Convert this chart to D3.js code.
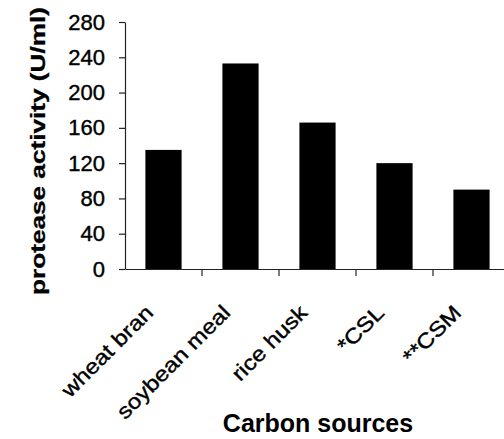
<!DOCTYPE html>
<html>
<head>
<meta charset="utf-8">
<script src="https://cdn.jsdelivr.net/npm/d3@7"></script>
<style>
	body { margin: 0; background: #fff; }
	svg { display: block; font-family: "Liberation Sans", Arial, sans-serif; }
	.axis path, .axis line { stroke: #222; stroke-width: 1.2; }
</style>
</head>
<body>
<div id="vis"></div>
<script>
var categories = ["wheat bran", "soybean meal", "rice husk", "*CSL", "**CSM"];
var activity   = [135, 233, 166, 120, 90];
var yTicks     = [0, 40, 80, 120, 160, 200, 240, 280];

var yTitle = "protease activity (U/ml)";
var xTitle = "Carbon sources";

// size of the picture and of the plot area
var width = 504;
var height = 439;
var margin = { top: 22, left: 125, bottom: 170, right: -6 };
var plotW = width - margin.left - margin.right;
var plotH = height - margin.top - margin.bottom;

var myData = categories.map(function (c, i) {
	return { name: c, value: activity[i] };
});

var x = d3.scaleBand()
	.range([0, plotW])
	.paddingInner(0.53)
	.paddingOuter(0.265)
	.domain(categories);

var y = d3.scaleLinear()
	.range([plotH, 0])
	.domain([0, 280]);

var svg = d3.select('#vis').append('svg')
	.attr('width', width)
	.attr('height', height);

var g = svg.append("g").attr("transform", "translate(" + margin.left + "," + margin.top + ")");

// bars
g.selectAll(".bar")
	.data(myData)
	.enter().append("rect")
	.attr("class", "bar")
	.attr("x", function (d) { return x(d.name); })
	.attr("y", function (d) { return y(d.value); })
	.attr("width", x.bandwidth())
	.attr("height", function (d) { return plotH - y(d.value); })
	.attr("fill", "#000");

// y axis
var yAxis = g.append("g")
	.attr('class', 'y axis')
	.call(d3.axisLeft(y).tickValues(yTicks).tickSize(6).tickPadding(14).tickSizeOuter(0));
yAxis.selectAll("text")
	.attr("fill", "#000")
	.attr("stroke", "#000")
	.attr("stroke-width", 0.4)
	.style("font-size", "22px");

// x axis: the line, labels under each bar, ticks between the bars
var xAxis = g.append("g")
	.attr('class', 'x axis')
	.attr("transform", "translate(0," + plotH + ")")
	.call(d3.axisBottom(x).tickSize(0).tickSizeOuter(0).tickFormat(""));

xAxis.selectAll(".sep")
	.data(categories.slice(1))
	.enter().append("line")
	.attr("class", "sep")
	.attr("x1", function (d) { return x(d) - (x.step() - x.bandwidth()) / 2; })
	.attr("x2", function (d) { return x(d) - (x.step() - x.bandwidth()) / 2; })
	.attr("y1", 0)
	.attr("y2", 7);

g.selectAll(".xlabel")
	.data(categories)
	.enter().append("text")
	.attr("class", "xlabel")
	.attr("transform", function (d) {
		return "translate(" + (x(d) + x.bandwidth() / 2 - 9) + "," + (plotH + 45) + ") rotate(-45)";
	})
	.attr("text-anchor", "end")
	.style("font-size", "21px")
	.attr("fill", "#000")
	.attr("stroke", "#000")
	.attr("stroke-width", 0.4)
	.text(function (d) { return d; })
	.each(function () {
		var len = this.getComputedTextLength();
		d3.select(this)
			.attr("textLength", len * 1.15)
			.attr("lengthAdjust", "spacingAndGlyphs");
	});

// axis titles
svg.append("text")
	.attr("transform", "translate(45," + 151 + ") rotate(-90)")
	.attr("text-anchor", "middle")
	.attr("textLength", 288)
	.attr("lengthAdjust", "spacingAndGlyphs")
	.style("font-size", "21px")
	.style("font-weight", "bold")
	.attr("fill", "#000")
	.attr("stroke", "#000")
	.attr("stroke-width", 0.3)
	.text(yTitle);

svg.append("text")
	.attr("x", 318)
	.attr("y", 432)
	.attr("text-anchor", "middle")
	.style("font-size", "25px")
	.style("font-weight", "bold")
	.attr("fill", "#000")
	.text(xTitle);
</script>
</body>
</html>
